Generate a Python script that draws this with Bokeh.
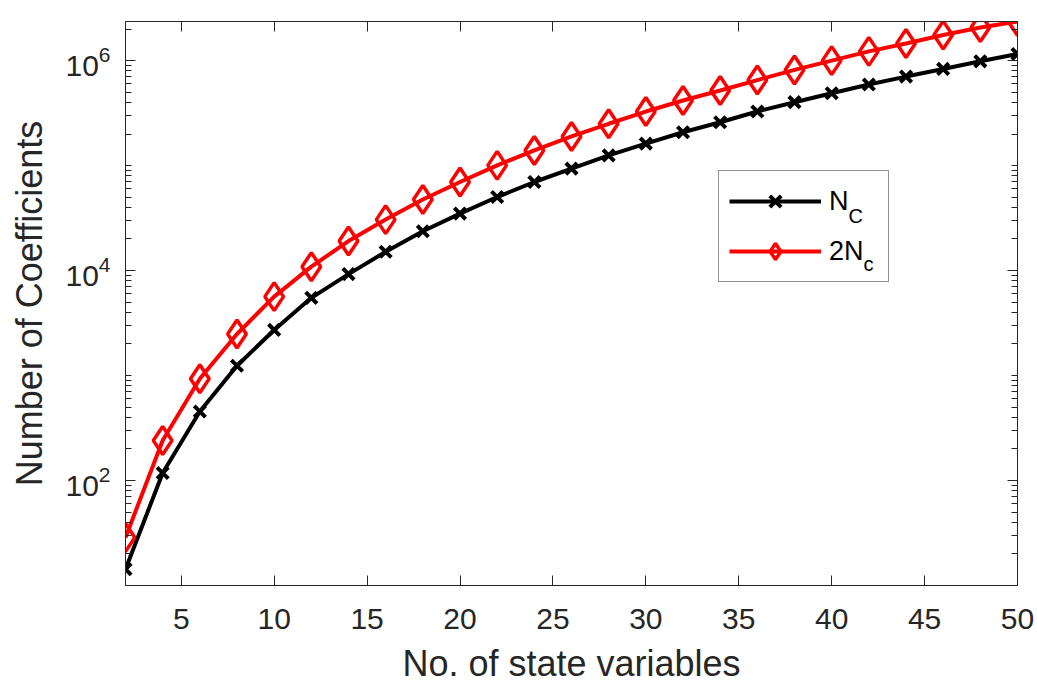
from bokeh.plotting import figure
from bokeh.models import (FixedTicker, LinearAxis, LogAxis, Range1d, Legend,
                          LegendItem, CustomJSTickFormatter, ColumnDataSource,
                          LogTickFormatter)
from bokeh.core.properties import value
from bokeh.embed import file_html
from bokeh.resources import INLINE

# ---------------- data ----------------
n_vars = [2, 4, 6, 8, 10, 12, 14, 16, 18, 20, 22, 24, 26, 28, 30,
          32, 34, 36, 38, 40, 42, 44, 46, 48, 50]
n_c = [14.3, 118, 455, 1240, 2720, 5500, 9260, 15100, 23700, 34900,
       50200, 69800, 93600, 125000, 162000, 208000, 259000, 328000,
       402000, 489000, 592000, 705000, 834000, 985000, 1158000]
two_n_c = [28.6, 241, 931, 2490, 5650, 10900, 19100, 30600, 47500, 69800,
           100500, 139600, 189700, 250400, 327500, 416900, 519000, 653000,
           816000, 1000000, 1225000, 1459000, 1753000, 2071000, 2363000]

x_ticks = [5, 10, 15, 20, 25, 30, 35, 40, 45, 50]
y_major_ticks = [1e2, 1e4, 1e6]

x_title = "No. of state variables"
y_title = "Number of Coefficients"
legend_main = ["N", "2N"]
legend_sub = ["C", "c"]

# ---------------- style ----------------
AX = "#262626"
FONT = "Liberation Sans"
X0, X1 = 2, 50
Y0, Y1 = 10, 2.36e6

y_minor = []
for m in range(1, 7):
    for k in range(1, 10):
        v = k * 10 ** m
        if v <= Y1:
            y_minor.append(v)

p = figure(width=1037, height=686, y_axis_type="log",
           x_range=Range1d(X0, X1), y_range=Range1d(Y0, Y1),
           output_backend="svg", toolbar_location=None,
           min_border_left=125, min_border_right=20,
           min_border_top=21, min_border_bottom=101,
           background_fill_color="white", border_fill_color="white")
p.outline_line_color = AX
p.outline_line_width = 1
p.xgrid.visible = False
p.ygrid.visible = False

x_ticker = FixedTicker(ticks=x_ticks, minor_ticks=[])
y_ticker = FixedTicker(ticks=y_major_ticks, minor_ticks=y_minor)
blank = CustomJSTickFormatter(code="return ''")


def style_axis(ax):
    ax.axis_line_color = AX
    ax.axis_line_width = 1
    ax.major_tick_line_color = AX
    ax.minor_tick_line_color = AX
    ax.major_tick_in = 10
    ax.major_tick_out = 0
    ax.minor_tick_in = 6
    ax.minor_tick_out = 0


# bottom axis
xa = p.xaxis[0]
xa.ticker = x_ticker
style_axis(xa)
xa.major_label_text_font = FONT
xa.major_label_text_font_size = "30px"
xa.major_label_text_color = AX
xa.major_label_standoff = 23
xa.axis_label = x_title
xa.axis_label_text_font = FONT
xa.axis_label_text_font_size = "36px"
xa.axis_label_text_font_style = "normal"
xa.axis_label_text_color = AX
xa.axis_label_standoff = 11

# left axis (10^n labels)
ya = p.yaxis[0]
ya.ticker = y_ticker
ya.formatter = LogTickFormatter()
style_axis(ya)
ya.major_label_text_font = FONT
ya.major_label_text_font_size = "30px"
ya.major_label_text_color = AX
ya.major_label_standoff = 15
ya.axis_label = y_title
ya.axis_label_text_font = FONT
ya.axis_label_text_font_size = "36px"
ya.axis_label_text_font_style = "normal"
ya.axis_label_text_color = AX
ya.axis_label_standoff = 12

# top and right mirror axes
top = LinearAxis(ticker=x_ticker, formatter=blank, major_label_standoff=0)
style_axis(top)
p.add_layout(top, "above")
right = LogAxis(ticker=y_ticker, formatter=blank, major_label_standoff=0)
style_axis(right)
p.add_layout(right, "right")

# ---------------- series ----------------
src = ColumnDataSource(dict(n=n_vars, nc=n_c, nc2=two_n_c))
l1 = p.line("n", "nc", source=src, line_color="black", line_width=4)
s1 = p.scatter("n", "nc", source=src, marker="x", size=16,
               line_color="black", line_width=4)
l2 = p.line("n", "nc2", source=src, line_color="#FF0000", line_width=4)
s2 = p.scatter("n", "nc2", source=src, marker="diamond", size=28,
               line_color="#FF0000", fill_color=None, line_width=3.5)

# ---------------- legend ----------------
legend = Legend(items=[LegendItem(label=legend_main[0], renderers=[l1, s1]),
                       LegendItem(label=legend_main[1], renderers=[l2, s2])],
                location=(593, 303), orientation="vertical",
                glyph_width=92, glyph_height=40, label_standoff=8,
                label_width=49, spacing=10, padding=10, margin=0,
                label_text_font=FONT, label_text_font_size="27px",
                label_text_color="black",
                border_line_color=AX, border_line_width=1,
                background_fill_color="white", background_fill_alpha=0)
p.add_layout(legend)

# subscripts of the legend labels, placed from the frame's lower-left corner
sub_src = ColumnDataSource(dict(x=[X0, X0], y=[Y0, Y0], t=legend_sub,
                                dx=[723, 738], dy=[-370, -322]))
p.text(x="x", y="y", text="t", x_offset="dx", y_offset="dy", source=sub_src,
       text_font=value(FONT), text_font_size="20px", text_color="black",
       text_align="left", text_baseline="alphabetic")

open("out.html", "w").write(file_html(p, INLINE))
